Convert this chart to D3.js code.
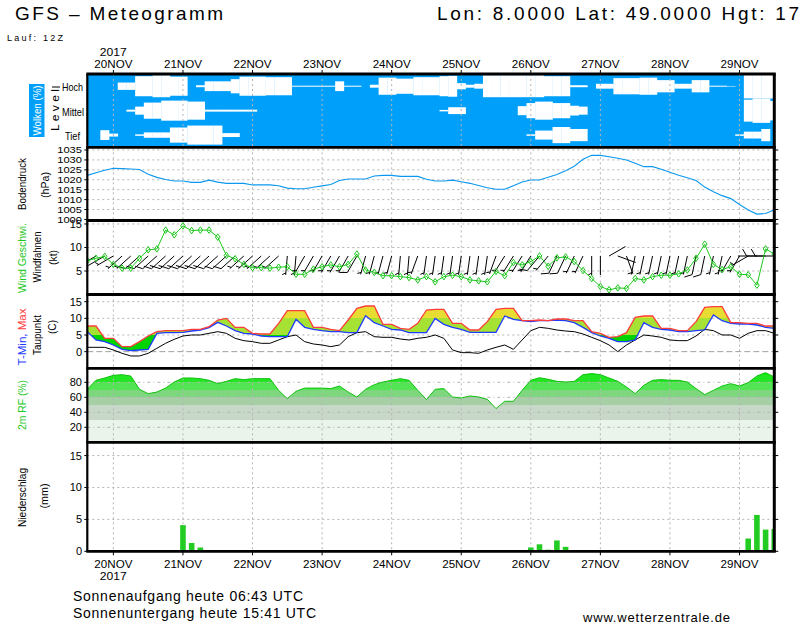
<!DOCTYPE html>
<html><head><meta charset="utf-8">
<script src="https://cdn.jsdelivr.net/npm/d3@7"></script>
<style>body{margin:0;background:#fff}svg{display:block}text{font-family:"Liberation Sans",Arial,sans-serif}</style>
</head><body><svg id="c" width="800" height="625"></svg>
<script>
// ---------------- DATA (3-hourly, from 19NOV 15Z) ----------------
const runStart = "2017-11-19T15:00:00Z";
const dayLabels = ["20NOV","21NOV","22NOV","23NOV","24NOV","25NOV","26NOV","27NOV","28NOV","29NOV"];
const yearLabel = "2017";
const pressureTicks = [1000,1005,1010,1015,1020,1025,1030,1035];
const windTicks = [5,10,15];
const tempTicks = [0,5,10,15];
const rhTicks = [20,40,60,80];
const precipTicks = [0,5,10,15];

const cloudHigh = [100,100,100,100,70,70,18,18,10,10,22,22,100,92,60,60,60,42,22,22,
  22,26,26,26,96,96,96,96,96,60,96,96,100,88,30,30,38,38,26,26,
  26,18,14,75,88,80,10,10,10,10,10,10,10,18,18,18,92,92,100,80,
  80,34,34,34,30,30,50,50,80,80,50,50,96,96,98,100,0,0,0,0];
const cloudMid = [100,100,100,100,100,92,67,34,34,18,18,18,26,26,92,92,92,92,92,92,
  100,100,100,100,100,100,100,100,100,100,100,100,100,100,100,100,100,100,100,100,
  100,94,72,72,100,100,100,100,100,100,63,38,26,26,38,38,60,67,100,100,
  100,100,100,100,100,100,100,100,100,100,100,100,100,100,100,100,10,0,0,20];
const cloudLow = [100,100,60,88,100,100,94,78,78,78,38,38,22,22,22,22,84,84,100,100,
  100,100,100,100,100,100,100,100,100,100,100,100,100,100,100,100,100,100,100,100,
  100,100,100,100,100,100,100,100,100,100,100,94,63,63,34,34,50,50,100,100,
  100,100,100,100,100,100,100,100,100,100,100,100,100,100,100,94,72,72,50,100];
const pressure = [1022.2,1023.5,1024.8,1025.8,1025.6,1025.4,1025.2,1022.8,1021.2,1020.1,
  1019.4,1019.4,1018.7,1018.7,1019.8,1018.8,1018.2,1018.2,1018.2,1017.4,
  1017.4,1017.4,1017.0,1015.8,1015.5,1015.5,1016.2,1016.9,1017.6,1019.6,
  1020.4,1020.4,1020.4,1021.9,1022.2,1022.2,1021.7,1021.7,1021.7,1020.3,
  1019.4,1019.4,1019.8,1019.0,1018.2,1017.1,1016.0,1015.2,1015.2,1017.0,
  1018.9,1019.9,1019.9,1021.3,1022.7,1024.6,1026.8,1030.3,1032.3,1032.3,
  1031.6,1030.8,1030.0,1028.3,1026.6,1026.6,1025.3,1023.8,1022.3,1021.0,
  1019.6,1016.3,1014.0,1012.0,1010.5,1007.5,1004.8,1002.7,1003.0,1004.9];
const windSpeed = [7.2,7.7,8.1,6.4,5.6,5.6,7.7,9.5,9.7,13.7,12.7,14.6,13.6,13.7,13.7,12.2,8.3,7.6,6.4,5.7,
  5.7,5.6,5.8,5.9,4.3,4.3,5.4,5.9,6.3,5.9,6.4,8.6,5.2,4.7,4.0,4.0,3.8,3.6,3.1,3.8,
  2.7,3.8,4.1,3.8,3.1,2.9,2.7,4.9,4.0,6.8,6.3,7.0,8.2,6.0,7.8,8.0,7.0,5.1,3.4,1.7,
  1.0,1.4,1.3,3.4,3.1,3.8,4.1,4.1,4.4,5.2,7.7,10.7,6.4,5.3,5.9,4.3,4.2,2.0,9.7,8.6];
const windDir = [240,240,240,240,228,228,228,228,228,228,228,228,228,228,228,228,228,228,228,228,
  228,228,228,185,185,210,210,210,210,210,210,210,195,195,195,195,185,185,200,188,
  188,188,188,188,188,188,188,200,212,212,212,212,220,220,205,205,205,205,180,180,
  60,110,160,192,192,192,192,192,192,192,192,192,192,192,210,210,240,270,270,270];
const tMax = [7.7,7.7,4.0,4.0,1.5,1.5,3.0,4.7,6.0,6.3,6.3,6.3,6.7,6.7,7.5,9.5,10.0,7.3,7.3,5.5,
  5.3,5.3,8.5,12.3,12.3,12.3,7.3,7.3,6.7,6.3,9.5,13.0,13.7,13.7,8.2,8.2,7.0,6.7,8.5,12.5,
  12.7,12.7,8.5,8.5,6.5,6.5,9.0,12.7,13.0,13.0,9.3,9.3,9.5,9.3,9.8,9.8,9.3,9.3,6.0,5.5,
  4.3,4.5,5.7,10.3,10.7,10.7,7.0,7.0,6.3,6.3,9.0,13.3,13.5,13.5,8.7,8.7,8.5,8.5,7.7,7.7];
const tMin = [6.0,3.5,3.0,2.0,0.7,0.3,0.5,0.7,5.5,5.7,5.7,5.8,6.2,6.5,7.2,8.8,7.7,6.3,5.5,5.3,
  4.7,4.5,4.5,4.5,9.7,7.3,6.7,6.3,6.0,6.0,5.7,5.7,10.8,8.7,7.7,6.7,6.5,5.7,5.7,5.7,
  10.0,8.2,7.3,6.7,5.8,5.8,5.8,5.8,10.7,9.7,9.3,9.0,9.3,9.3,9.5,9.3,8.7,7.3,5.7,4.7,
  4.0,3.0,3.0,3.5,8.7,7.3,6.7,6.5,6.0,6.0,6.3,6.5,11.0,9.3,8.5,8.3,8.3,8.0,7.3,7.0];
const dewPoint = [1.3,1.3,1.3,0.5,-0.5,-1.3,-1.3,-0.5,1.0,2.5,3.7,4.7,5.0,5.0,5.5,6.0,5.5,4.0,3.3,3.0,
  2.5,2.5,3.5,4.5,5.0,3.0,2.3,2.0,1.5,2.0,4.5,5.7,6.0,4.5,4.3,4.3,3.8,3.5,4.0,4.3,
  5.0,4.0,0.5,-0.3,-0.3,-0.5,0.5,1.3,2.0,0.7,3.5,6.3,7.3,7.0,6.5,6.2,6.0,5.3,4.3,3.3,
  2.0,0.0,2.0,3.5,5.0,4.7,4.3,3.5,3.3,3.3,4.7,6.7,6.3,5.0,5.0,4.0,5.5,6.3,6.3,5.5];
const relHum = [70.7,82.7,85.8,89.3,90.2,88.4,70.7,64.9,67.0,72.3,80.4,85.8,85.8,84.9,82.7,78.2,81.3,84.9,83.6,84.9,
  84.9,84.9,69.3,58.2,68.0,72.3,72.3,72.3,71.6,75.1,67.0,60.4,70.7,76.9,80.4,82.7,84.9,82.7,69.3,56.9,
  70.7,71.6,60.4,59.1,61.8,60.4,57.3,44.9,54.7,54.7,69.3,82.7,86.2,84.0,81.3,80.4,81.3,90.2,91.6,90.2,
  85.8,81.3,73.8,64.9,76.0,82.7,83.6,82.7,82.7,80.4,71.6,63.6,69.3,75.1,78.2,75.1,79.6,88.4,92.9,87.1];
const precip = [0,0,0,0,0,0,0,0,0,0,0,4.1,1.3,0.6,0,0,0,0,0,0,
  0,0,0,0,0,0,0,0,0,0,0,0,0,0,0,0,0,0,0,0,
  0,0,0,0,0,0,0,0,0,0,0,0.6,1.1,0.25,1.7,0.7,0.2,0,0,0,
  0,0,0,0,0,0,0,0,0,0,0,0,0,0,0,0,2.0,5.7,3.4,3.5];

// ---------------- LAYOUT ----------------
const svg = d3.select("#c");
const X0 = 87.3, X1 = 774.3;
const P = {cloud:[74,147.3], pres:[147.3,220.5], wind:[220.5,294.5], temp:[294.5,368.3], rh:[368.3,442.3], prec:[442.3,551.3]};
const t0 = new Date(runStart);
const H3 = 3*3600e3;
const times = pressure.map((d,i)=>new Date(t0.getTime()+i*H3));
const x = d3.scaleUtc().domain([t0, new Date(Date.UTC(2017,10,29,12))]).range([X0,X1]);
const days = dayLabels.map((d,i)=>new Date(Date.UTC(2017,10,20+i)));

const yP = d3.scaleLinear().domain([999.47,1036.36]).range([P.pres[1],P.pres[0]]);
const yW = d3.scaleLinear().domain([0,15.74]).range([P.wind[1],P.wind[0]]);
const yT = d3.scaleLinear().domain([-5,17.16]).range([P.temp[1],P.temp[0]]);
const yR = d3.scaleLinear().domain([0,98.7]).range([P.rh[1],P.rh[0]]);
const yN = d3.scaleLinear().domain([0,17.08]).range([P.prec[1],P.prec[0]]);

const defs = svg.append("defs");
function clip(id, r){ defs.append("clipPath").attr("id",id).append("rect").attr("x",X0).attr("y",r[0]).attr("width",X1-X0).attr("height",r[1]-r[0]); return `url(#${id})`; }

const GRID = "#b4b4b4";
function vgrid(g, r){
  g.selectAll(null).data(days).join("line").attr("x1",d=>x(d)).attr("x2",d=>x(d))
   .attr("y1",r[0]).attr("y2",r[1]).attr("stroke",GRID).attr("stroke-dasharray","2,3");
}
function hgrid(g, ticks, y, dash){
  g.selectAll(null).data(ticks).join("line").attr("x1",X0).attr("x2",X1)
   .attr("y1",d=>y(d)).attr("y2",d=>y(d)).attr("stroke",GRID).attr("stroke-dasharray",dash||"2,3");
}
function yLabels(ticks, y, fs){
  const g = svg.append("g");
  const t = g.selectAll(null).data(ticks).join("text").attr("x",82).attr("y",d=>y(d)).attr("dy","0.36em")
   .attr("text-anchor","end").attr("font-size",fs||11).text(d=>d);
  if(fs) t.attr("textLength",d=>String(d).length*6.2).attr("lengthAdjust","spacingAndGlyphs");
  g.selectAll(null).data(ticks).join("line").attr("x1",X0-3).attr("x2",X0).attr("y1",d=>y(d)).attr("y2",d=>y(d)).attr("stroke","#000");
  g.selectAll(null).data(ticks).join("line").attr("x1",X1).attr("x2",X1+4).attr("y1",d=>y(d)).attr("y2",d=>y(d)).attr("stroke","#000");
}
function rotText(cx, cy, txt, size, color, len){
  const t = svg.append("text").attr("transform",`translate(${cx},${cy}) rotate(-90)`).attr("text-anchor","middle")
    .attr("dy","0.35em").attr("font-size",size).attr("fill",color||"#000").text(txt);
  if(len) t.attr("textLength",len).attr("lengthAdjust","spacingAndGlyphs");
  return t;
}

// ---------------- CLOUD PANEL ----------------
const BLUE = "#00a0fa";
{
  const g = svg.append("g").attr("clip-path", clip("cc",P.cloud));
  g.append("rect").attr("x",X0).attr("y",P.cloud[0]).attr("width",X1-X0).attr("height",P.cloud[1]-P.cloud[0]).attr("fill",BLUE);
  const lh = (P.cloud[1]-P.cloud[0])/3;
  const levels = [cloudHigh, cloudMid, cloudLow];
  levels.forEach((arr,k)=>{
    const c = P.cloud[0] + lh*(k+0.5);
    g.selectAll(null).data(arr).join("rect")
     .attr("x",(d,i)=>x(new Date(times[i].getTime()-H3/2)))
     .attr("width",(d,i)=>x(new Date(times[i].getTime()+H3/2))-x(new Date(times[i].getTime()-H3/2))+0.3)
     .attr("y",d=>c-(1-d/100)*lh/2).attr("height",d=>(1-d/100)*lh).attr("fill","#fff");
  });
  vgrid(g, P.cloud);
}
// cloud labels
svg.append("rect").attr("x",29).attr("y",84).attr("width",15.5).attr("height",53).attr("fill",BLUE);
rotText(37,110.5,"Wolken (%)",10.5,"#fff",50);
rotText(55.5,110,"L e v e l",10.5,"#000",42);
svg.append("line").attr("x1",52).attr("x2",60).attr("y1",87).attr("y2",87).attr("stroke","#000");
[["Hoch",90.5,21],["Mittel",115.5,22],["Tief",140,15]].forEach(([t,y,l],i)=>{
  svg.append("text").attr("x",i==2?65:62).attr("y",y).attr("font-size",11).attr("textLength",l).attr("lengthAdjust","spacingAndGlyphs").text(t);
});

// ---------------- PRESSURE ----------------
{
  const g = svg.append("g").attr("clip-path", clip("cp",P.pres));
  vgrid(g,P.pres); hgrid(g,pressureTicks,yP);
  g.append("path").datum(pressure).attr("fill","none").attr("stroke","#0a98f0").attr("stroke-width",1.1)
   .attr("d",d3.line().x((d,i)=>x(times[i])).y(d=>yP(d)));
  yLabels(pressureTicks,yP,8.8);
  rotText(22.5,184,"Bodendruck",11,"#000",52);
  rotText(45,185,"(hPa)",11,"#000",26);
}

// ---------------- WIND ----------------
const GREEN = "#1ec81e";
{
  const g = svg.append("g").attr("clip-path", clip("cw",P.wind));
  vgrid(g,P.wind); hgrid(g,windTicks,yW);
  const bg = g.append("g").attr("stroke","#000").attr("stroke-width",1).attr("fill","none");
  const SY = 256, L = 19;
  windSpeed.forEach((s,i)=>{
    const cx = x(times[i]), r = windDir[i]*Math.PI/180;
    const ux = Math.sin(r), uy = -Math.cos(r), fx = -uy, fy = ux;
    const ex = cx+ux*L, ey = SY+uy*L;
    let p = `M${cx},${SY}L${ex},${ey}`;
    let v = Math.round(s/5)*5, pos = 0;
    const fdx = fx*0.87+ux*0.5, fdy = fy*0.87+uy*0.5;
    while(v>=10){ p += `M${ex-ux*pos},${ey-uy*pos}l${fdx*8},${fdy*8}`; v-=10; pos+=3; }
    if(v>=5){ if(pos===0) pos=2; p += `M${ex-ux*pos},${ey-uy*pos}l${fdx*4},${fdy*4}`; }
    bg.append("path").attr("d",p);
  });
  g.append("path").datum(windSpeed).attr("fill","none").attr("stroke",GREEN).attr("stroke-width",1)
   .attr("d",d3.line().x((d,i)=>x(times[i])).y(d=>yW(d)));
  g.selectAll(null).data(windSpeed).join("path")
   .attr("transform",(d,i)=>`translate(${x(times[i])},${yW(d)})`)
   .attr("d","M0,-3.3L2.3,0L0,3.3L-2.3,0Z").attr("fill","none").attr("stroke",GREEN);
  yLabels(windTicks,yW);
  rotText(22,258,"Wind Geschwi.",11,GREEN,70);
  rotText(37.5,257,"Windfahnen",11,"#000",51);
  rotText(53,257.5,"(kt)",11,"#000",15);
}

// ---------------- TEMPERATURE ----------------
{
  const top = yT.range()[1], bot = yT.range()[0];
  const o = v => (yT(v)-top)/(bot-top);
  const gr = defs.append("linearGradient").attr("id","tg").attr("gradientUnits","userSpaceOnUse")
    .attr("x1",0).attr("x2",0).attr("y1",top).attr("y2",bot);
  [[0,"#e6dc32"],[o(10),"#e6dc32"],[o(10),"#a6e234"],[o(5),"#a6e234"],[o(5),"#00d400"],[1,"#00d400"]]
    .forEach(([off,c])=>gr.append("stop").attr("offset",off).attr("stop-color",c));
  const g = svg.append("g").attr("clip-path", clip("ct",P.temp));
  vgrid(g,P.temp); hgrid(g,[5,10,15],yT);
  g.append("line").attr("x1",X0).attr("x2",X1).attr("y1",yT(0)).attr("y2",yT(0)).attr("stroke","#a0a0a0").attr("stroke-dasharray","6,3");
  g.append("path").datum(tMax).attr("fill","url(#tg)")
   .attr("d",d3.area().x((d,i)=>x(times[i])).y0((d,i)=>yT(tMin[i])).y1(d=>yT(d)));
  const ln = d3.line().x((d,i)=>x(times[i])).y(d=>yT(d));
  g.append("path").datum(dewPoint).attr("fill","none").attr("stroke","#000").attr("stroke-width",1).attr("d",ln);
  g.append("path").datum(tMin).attr("fill","none").attr("stroke","#1e3cff").attr("stroke-width",1.3).attr("d",ln);
  g.append("path").datum(tMax).attr("fill","none").attr("stroke","#ff3c3c").attr("stroke-width",1.3).attr("d",ln);
  yLabels(tempTicks,yT);
  const t = svg.append("text").attr("transform","translate(22,337) rotate(-90)").attr("text-anchor","middle").attr("dy","0.35em")
    .attr("font-size",11).attr("textLength",57).attr("lengthAdjust","spacingAndGlyphs");
  t.append("tspan").attr("fill","#1e3cff").text("T-Min, ");
  t.append("tspan").attr("fill","#ff3c3c").text("Max");
  rotText(37,335,"Taupunkt",11,"#000",40);
  rotText(52.5,327,"(C)",11,"#000",14);
}

// ---------------- REL. HUMIDITY ----------------
{
  const top = yR.range()[1], bot = yR.range()[0];
  const o = v => (yR(v)-top)/(bot-top);
  const gr = defs.append("linearGradient").attr("id","rg").attr("gradientUnits","userSpaceOnUse")
    .attr("x1",0).attr("x2",0).attr("y1",top).attr("y2",bot);
  const bands = [[100,90,"#00ec00"],[90,80,"#22e622"],[80,70,"#52e452"],[70,60,"#7ed67e"],[60,50,"#a6cfa6"],[50,30,"#c8d8c8"],[30,0,"#eaf4ea"]];
  bands.forEach(([a,b,c])=>{ gr.append("stop").attr("offset",Math.max(0,o(a))).attr("stop-color",c); gr.append("stop").attr("offset",o(b)).attr("stop-color",c); });
  const g = svg.append("g").attr("clip-path", clip("cr",P.rh));
  g.append("path").datum(relHum).attr("fill","url(#rg)")
   .attr("d",d3.area().x((d,i)=>x(times[i])).y0(bot).y1(d=>yR(d)));
  vgrid(g,P.rh); hgrid(g,rhTicks,yR,"3,3,1,3");
  g.append("path").datum(relHum).attr("fill","none").attr("stroke","#10c010").attr("stroke-width",1)
   .attr("d",d3.line().x((d,i)=>x(times[i])).y(d=>yR(d)));
  yLabels(rhTicks,yR);
  rotText(22,405,"2m RF (%)",11,GREEN,50);
}

// ---------------- PRECIPITATION ----------------
{
  const g = svg.append("g").attr("clip-path", clip("cn",P.prec));
  vgrid(g,P.prec); hgrid(g,[5,10,15],yN);
  g.selectAll(null).data(precip).join("rect")
   .attr("x",(d,i)=>x(times[i])-2.8).attr("width",5.6)
   .attr("y",d=>yN(d)).attr("height",d=>yN(0)-yN(d)).attr("fill","#22cc22");
  yLabels(precipTicks,yN);
  rotText(22,497.5,"Niederschlag",11,"#000",59);
  rotText(44,496,"(mm)",11,"#000",25);
}

// ---------------- FRAME & TIME AXES ----------------
{
  const f = svg.append("g").attr("stroke","#000");
  [P.cloud[0],P.cloud[1],P.pres[1],P.wind[1],P.temp[1],P.rh[1],P.prec[1]].forEach(y=>
    f.append("line").attr("x1",X0-1).attr("x2",X1+1.5).attr("y1",y).attr("y2",y).attr("stroke-width",2.8));
  f.append("line").attr("x1",X0).attr("x2",X0).attr("y1",P.cloud[0]).attr("y2",P.prec[1]).attr("stroke-width",2.2);
  f.append("line").attr("x1",X1).attr("x2",X1).attr("y1",P.cloud[0]).attr("y2",P.prec[1]).attr("stroke-width",3);
  f.selectAll(null).data(days).join("line").attr("x1",d=>x(d)).attr("x2",d=>x(d)).attr("y1",P.cloud[0]-4).attr("y2",P.cloud[0]);
  f.selectAll(null).data(days).join("line").attr("x1",d=>x(d)).attr("x2",d=>x(d)).attr("y1",P.prec[1]).attr("y2",P.prec[1]+4);
  const lab = (y)=> svg.append("g").selectAll(null).data(days).join("text").attr("x",d=>x(d)).attr("y",y)
    .attr("text-anchor","middle").attr("font-size",11).attr("textLength",38).attr("lengthAdjust","spacingAndGlyphs").text((d,i)=>dayLabels[i]);
  lab(67.5); lab(568);
  svg.append("text").attr("x",x(days[0])).attr("y",56).attr("text-anchor","middle").attr("font-size",11).attr("textLength",27).attr("lengthAdjust","spacingAndGlyphs").text(yearLabel);
  svg.append("text").attr("x",x(days[0])).attr("y",580).attr("text-anchor","middle").attr("font-size",11).attr("textLength",27).attr("lengthAdjust","spacingAndGlyphs").text(yearLabel);
}

// ---------------- TITLES ----------------
svg.append("text").attr("x",15).attr("y",20).attr("font-size",19).attr("textLength",208).attr("lengthAdjust","spacing").text("GFS – Meteogramm");
svg.append("text").attr("x",437).attr("y",20).attr("font-size",19).attr("textLength",362).attr("lengthAdjust","spacing").text("Lon: 8.0000 Lat: 49.0000 Hgt: 17");
svg.append("text").attr("x",7).attr("y",40.5).attr("font-size",9).attr("textLength",56).attr("lengthAdjust","spacing").text("Lauf: 12Z");
svg.append("text").attr("x",73).attr("y",600.5).attr("font-size",14).attr("textLength",230).attr("lengthAdjust","spacing").text("Sonnenaufgang heute 06:43 UTC");
svg.append("text").attr("x",73).attr("y",618).attr("font-size",14).attr("textLength",243).attr("lengthAdjust","spacing").text("Sonnenuntergang heute 15:41 UTC");
svg.append("text").attr("x",583).attr("y",621.5).attr("font-size",13).attr("textLength",147).attr("lengthAdjust","spacing").text("www.wetterzentrale.de");
</script></body></html>
